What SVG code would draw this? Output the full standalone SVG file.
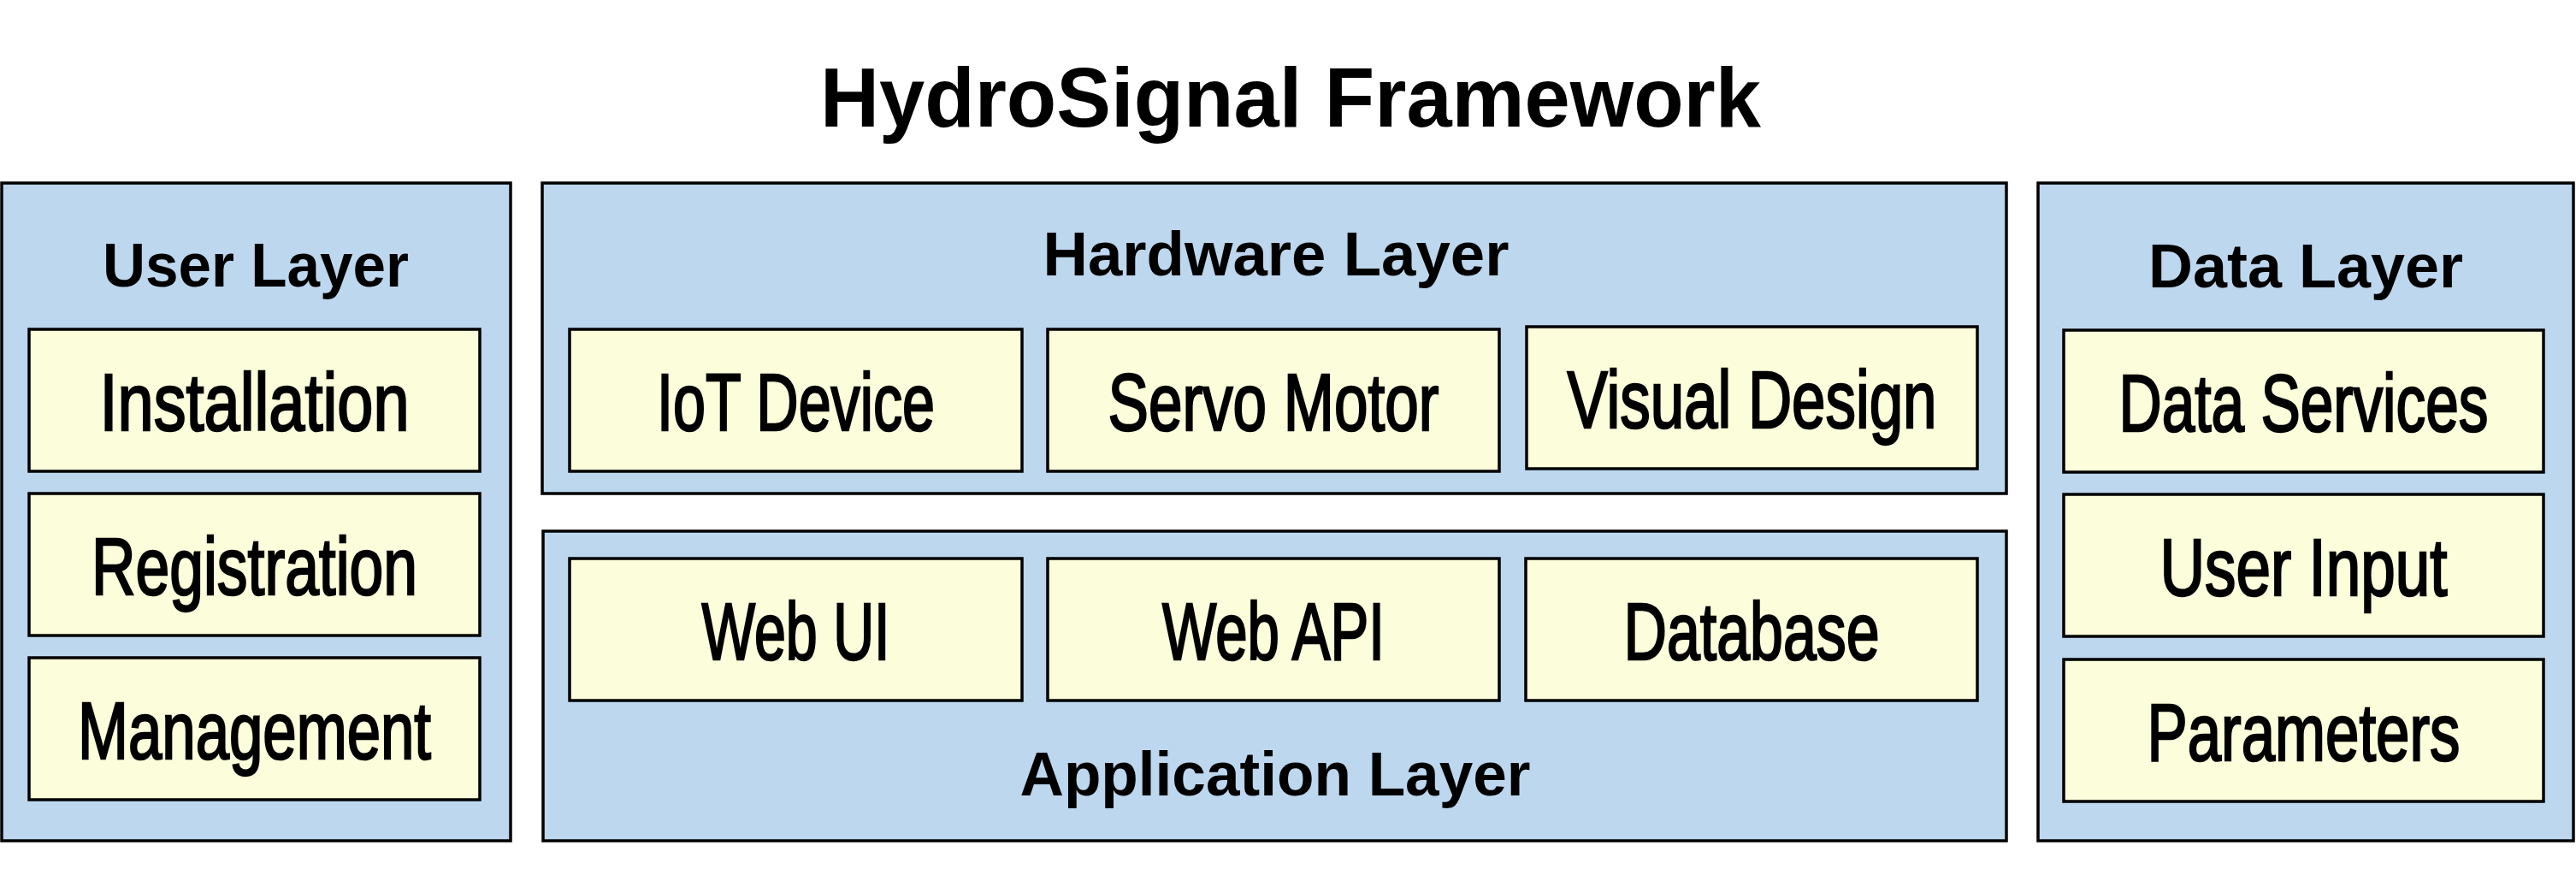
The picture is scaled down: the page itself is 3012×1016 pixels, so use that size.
<svg xmlns="http://www.w3.org/2000/svg" width="3012" height="1016" viewBox="0 0 3012 1016">
<style>
.layer{fill:#BDD7EE;stroke:#000;stroke-width:3.5}
.item{fill:#FBFDDB;stroke:#000;stroke-width:3.5}
.title{font-family:"Liberation Sans",Arial,sans-serif;font-weight:bold;font-size:98px;fill:#000;text-anchor:middle}
.head{font-family:"Liberation Sans",Arial,sans-serif;font-weight:bold;font-size:72px;fill:#000;text-anchor:middle}
.lbl{font-family:"Liberation Sans",Arial,sans-serif;font-weight:normal;font-size:95px;fill:#000;stroke:#000;stroke-width:2.5;text-anchor:middle}
</style>
<rect width="3012" height="1016" fill="#fff"/>
<text class="title" x="1509" y="148" textLength="1100" lengthAdjust="spacingAndGlyphs">HydroSignal Framework</text>

<g id="user-layer">
<rect class="layer" x="2" y="214" width="595" height="769"/>
<text class="head" x="299" y="335" textLength="358" lengthAdjust="spacingAndGlyphs">User Layer</text>
</g>
<g id="installation"><rect class="item" x="34" y="385" width="527" height="166"/><text class="lbl" x="297.5" y="503" textLength="362" lengthAdjust="spacingAndGlyphs">Installation</text></g>
<g id="registration"><rect class="item" x="34" y="577" width="527" height="166"/><text class="lbl" x="297.5" y="695" textLength="381" lengthAdjust="spacingAndGlyphs">Registration</text></g>
<g id="management"><rect class="item" x="34" y="769" width="527" height="166"/><text class="lbl" x="297.5" y="887" textLength="413" lengthAdjust="spacingAndGlyphs">Management</text></g>

<g id="hardware-layer">
<rect class="layer" x="634" y="214" width="1712" height="363"/>
<text class="head" x="1492" y="322" textLength="545" lengthAdjust="spacingAndGlyphs">Hardware Layer</text>
</g>
<g id="iot-device"><rect class="item" x="666" y="385" width="529" height="166"/><text class="lbl" x="930.5" y="503" textLength="325" lengthAdjust="spacingAndGlyphs">IoT Device</text></g>
<g id="servo-motor"><rect class="item" x="1225" y="385" width="528" height="166"/><text class="lbl" x="1489" y="503" textLength="387" lengthAdjust="spacingAndGlyphs">Servo Motor</text></g>
<g id="visual-design"><rect class="item" x="1785" y="382" width="527" height="166"/><text class="lbl" x="2048.5" y="500" textLength="432" lengthAdjust="spacingAndGlyphs">Visual Design</text></g>

<g id="application-layer">
<rect class="layer" x="635" y="621" width="1711" height="362"/>
<text class="head" x="1491" y="930" textLength="597" lengthAdjust="spacingAndGlyphs">Application Layer</text>
</g>
<g id="web-ui"><rect class="item" x="666" y="653" width="529" height="166"/><text class="lbl" x="930.5" y="771" textLength="220" lengthAdjust="spacingAndGlyphs">Web UI</text></g>
<g id="web-api"><rect class="item" x="1225" y="653" width="528" height="166"/><text class="lbl" x="1489" y="771" textLength="260" lengthAdjust="spacingAndGlyphs">Web API</text></g>
<g id="database"><rect class="item" x="1784" y="653" width="528" height="166"/><text class="lbl" x="2048" y="771" textLength="299" lengthAdjust="spacingAndGlyphs">Database</text></g>

<g id="data-layer">
<rect class="layer" x="2383" y="214" width="626" height="769"/>
<text class="head" x="2696" y="336" textLength="368" lengthAdjust="spacingAndGlyphs">Data Layer</text>
</g>
<g id="data-services"><rect class="item" x="2413" y="386" width="561" height="166"/><text class="lbl" transform="translate(2693.5 504) scale(0.8 1)" x="0" y="0" textLength="540" lengthAdjust="spacingAndGlyphs">Data Services</text></g>
<g id="user-input"><rect class="item" x="2413" y="578" width="561" height="166"/><text class="lbl" x="2693.5" y="696" textLength="336" lengthAdjust="spacingAndGlyphs">User Input</text></g>
<g id="parameters"><rect class="item" x="2413" y="771" width="561" height="166"/><text class="lbl" x="2693.5" y="889" textLength="366" lengthAdjust="spacingAndGlyphs">Parameters</text></g>

<g id="connectors"/>
</svg>
